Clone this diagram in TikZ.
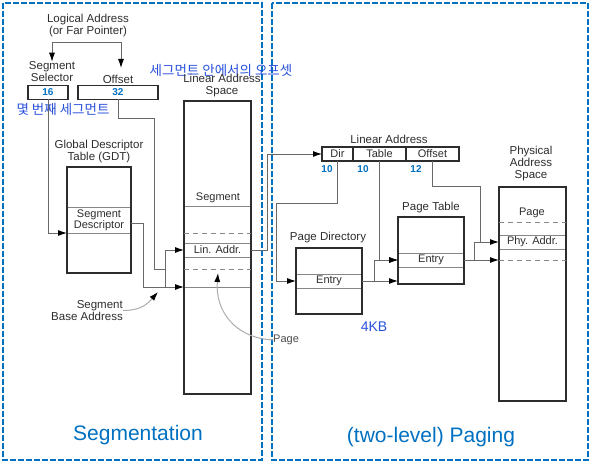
\documentclass[tikz,border=0pt]{standalone}
\usepackage{fontspec}
\setmainfont{Liberation Sans}
\newfontfamily\krfont{Noto Sans CJK KR}
\usetikzlibrary{arrows.meta,positioning}
\definecolor{frameblue}{RGB}{0,112,192}
\definecolor{noteblue}{RGB}{40,80,220}
\definecolor{ink}{RGB}{45,45,45}
\definecolor{wiregray}{RGB}{105,105,105}

\begin{document}
\begin{tikzpicture}[x=1pt,y=-1pt,
  lbl/.style={text=ink,font=\fontsize{11.5}{12}\selectfont,align=center,inner sep=0pt},
  num/.style={text=frameblue,font=\fontsize{10}{10}\selectfont\bfseries,inner sep=0pt},
  note/.style={text=noteblue,font=\krfont\fontsize{13.5}{14}\selectfont,inner sep=0pt},
  title/.style={text=frameblue,font=\fontsize{21}{21}\selectfont,inner sep=0pt},
  panel/.style={draw=frameblue,line width=1.1pt,dash pattern=on 6pt off 2pt},
  membox/.style={draw=ink,line width=1.4pt,inner sep=0pt,outer sep=0pt},
  row/.style={draw=wiregray!80,line width=0.9pt,inner sep=0pt,outer sep=0pt,
    text=ink,font=\fontsize{11}{10}\selectfont,align=center},
  field/.style={draw=ink,line width=1.2pt,inner sep=0pt,outer sep=0pt,minimum height=14pt,
    text=ink,font=\fontsize{11}{11}\selectfont},
  wire/.style={draw=wiregray,line width=0.9pt},
  arr/.style={wire,-{Latex[length=9pt,width=6pt,color=black]}},
  curvearr/.style={draw=gray!65,line width=1pt,-{Latex[length=9pt,width=6pt,color=black]}},
  gap/.style={draw=wiregray!80,line width=0.9pt,dash pattern=on 5pt off 4pt}]

\useasboundingbox (0,0) rectangle (595,465);

% Panels
\draw[panel] (3,3) rectangle (262,460);
\draw[panel] (272,3) rectangle (588,460);

\node[title] (segtitle) at (138,435)
{Segmentation};

\node[title] (pagtitle) at (431,437)
{(two-level) Paging};

% Logical address
\node[lbl] (logaddr) at (88,26)
{Logical Address\\(or Far Pointer)};

\node[lbl] (sellbl) at (52,72)
{Segment\\Selector};

\node[lbl] (offlbl) at (118,79)
{Offset};

\coordinate (brL) at (52,42);
\coordinate (brR) at (121,42);
\draw[wire] (brL) -- (brR);
\draw[arr] (brL) -- (sellbl.north);
\draw[arr] (brR) -- ++(0,26);

\node[field,minimum width=40pt,num] (sel) at (48,92.5)
{16};

\node[field,minimum width=80pt,num] (off) at (118,92.5)
{32};

\node[note] (offnote) at (221,70)
{세그먼트 안에서의 오프셋};

\node[note] (selnote) at (63,109)
{몇 번째 세그먼트};

% GDT
\node[lbl] (gdtlbl) at (99,152)
{Global Descriptor\\Table (GDT)};

\node[row,minimum width=64pt,minimum height=26pt] (desc) at (99,220)
{Segment\\Descriptor};

\node[membox,minimum width=64pt,minimum height=106pt] (gdt) at (99,220) {};

\draw[arr] (sel.south) |- (desc.south west);

% Linear address space
\node[lbl] (linlbl) at (222,86)
{Linear Address\\Space};

\node[row,minimum width=67pt,minimum height=81pt] (segrange) at (217.5,246.5) {};

\node[row,minimum width=67pt,minimum height=14pt] (linaddr) at (217.5,250)
{Lin. Addr.};

\node[membox,minimum width=67pt,minimum height=293pt] (lin) at (217.5,247.5) {};

\node[lbl,font=\fontsize{11}{11}\selectfont] (seglbl) at (218,198)
{Segment};

\draw[gap] (segrange.west |- 0,233) -- (segrange.east |- 0,233);
\draw[gap] (segrange.west |- 0,269) -- (segrange.east |- 0,269);

\coordinate (segjoin) at (165,269);
\draw[arr] ([yshift=-3pt]desc.east) -- ++(12,0) |- (segrange.south west);
\draw[wire] (off.south) |- ++(36,19) |- (segjoin);
\draw[arr] (segjoin |- segrange.south) |- (linaddr.west);

\node[lbl,align=right,anchor=east] (sbalbl) at (123,310.5)
{Segment\\Base Address};

\coordinate (sbatip) at (158,292);
\draw[curvearr] (sbalbl.east) .. controls +(20,0) and +(-9,10) .. (sbatip);

\node[lbl,anchor=west,text=ink!85,font=\fontsize{11}{11}\selectfont] (pagelbl) at (273,340)
{Page};

\coordinate (pagetip) at (218,273);
\draw[curvearr] (pagelbl.west) .. controls +(-38,-2) and +(-3,38) .. (pagetip);

% Linear address fields
\node[lbl] (lalbl) at (389,139)
{Linear Address};

\node[field,minimum width=31pt] (dir) at (337.5,154)
{Dir};

\node[field,minimum width=53pt,right=0pt of dir] (tbl)
{Table};

\node[field,minimum width=53pt,right=0pt of tbl] (offs)
{Offset};

\node[num] (dirbits) at (327,169)
{10};

\node[num] (tblbits) at (363,169)
{10};

\node[num] (offbits) at (416,169)
{12};

\draw[arr] (linaddr.east) -- ++(16,0) |- (dir.west);

% Page directory
\node[lbl] (pdlbl) at (328,238)
{Page Directory};

\node[row,minimum width=66pt,minimum height=14pt] (pdentry) at (329,281)
{Entry};

\node[membox,minimum width=66pt,minimum height=66pt] (pd) at (329,281) {};

\node[text=noteblue,font=\fontsize{14}{14}\selectfont,inner sep=0pt] (pagesize) at (374,327)
{4KB};

% Page table
\node[lbl] (ptlbl) at (431,208)
{Page Table};

\node[row,minimum width=66pt,minimum height=14pt] (ptentry) at (431,260)
{Entry};

\node[membox,minimum width=66pt,minimum height=67pt] (pt) at (431,250.5) {};

\draw[arr] (dir.south) |- ++(-61,42) |- (pdentry.west);
\draw[arr] (tbl.south) |- (ptentry.west);
\draw[arr] (pdentry.east) -- (pdentry.east -| pt.west);
\draw[arr] ([xshift=12pt]pdentry.east) |- (ptentry.west);

% Physical address space
\node[lbl] (physlbl) at (531,164)
{Physical\\Address\\Space};

\node[row,minimum width=67pt,minimum height=14pt] (phyaddr) at (532.5,242)
{Phy. Addr.};

\node[membox,minimum width=67pt,minimum height=214pt] (phys) at (532.5,294) {};

\node[lbl,font=\fontsize{11}{11}\selectfont] (pagetxt) at (532,213)
{Page};

\draw[gap] (phys.west |- 0,222) -- (phys.east |- 0,222);
\draw[gap] (phys.west |- 0,260) -- (phys.east |- 0,260);

\draw[arr] (ptentry.east) -- (ptentry.east -| phys.west);
\draw[arr] ([xshift=10pt]ptentry.east) |- (phyaddr.west);
\draw[wire] (offs.south) -- ++(0,25) -| ([xshift=-19pt]phyaddr.west);

\end{tikzpicture}
\end{document}
